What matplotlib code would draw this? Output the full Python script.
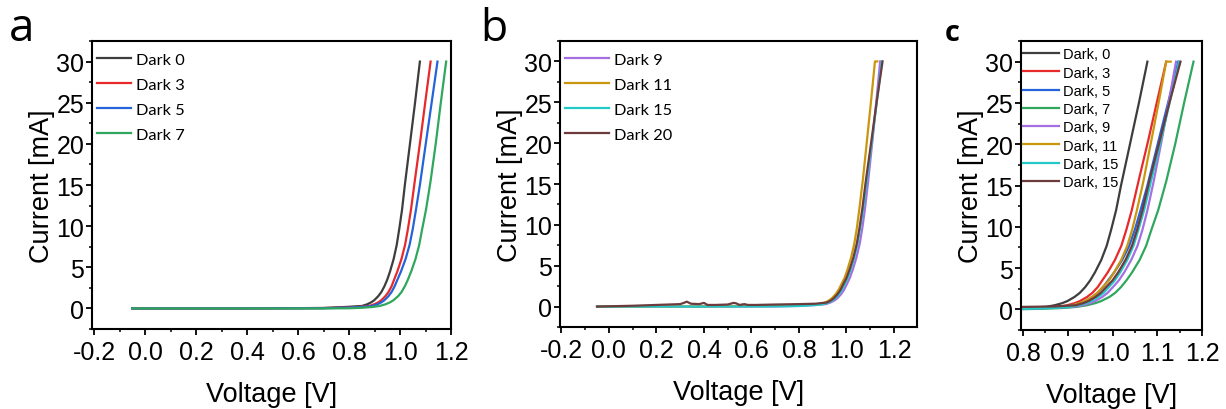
import matplotlib
matplotlib.use("Agg")
import matplotlib.pyplot as plt
from matplotlib.ticker import MultipleLocator, FormatStrFormatter

plt.rcParams['font.family'] = ['Liberation Sans', 'DejaVu Sans']

# ---------------- data (voltage [V], current [mA]) ----------------
v_d0 = [-0.05, 0.4, 0.7, 0.80, 0.851, 0.871, 0.8875, 0.899, 0.915, 0.927, 0.939, 0.95, 0.961, 0.975,
        0.987, 0.997, 1.008, 1.019, 1.039, 1.059, 1.078]
i_d0 = [0, 0, 0.05, 0.2, 0.3, 0.5, 0.75, 1.0, 1.5, 2.0, 2.7, 3.5, 4.5, 6.0,
        7.7, 9.65, 12, 15, 20, 25, 30]

v_d3 = [-0.05, 0.4, 0.7, 0.80, 0.84, 0.879, 0.899, 0.9155, 0.927, 0.943, 0.955, 0.967, 0.977, 0.9896,
        1.0056, 1.0197, 1.031, 1.043, 1.058, 1.08, 1.10, 1.12]
i_d3 = [0, 0, 0.05, 0.12, 0.2, 0.3, 0.5, 0.75, 1.0, 1.5, 2.0, 2.7, 3.5, 4.5,
        6.0, 7.7, 9.65, 12, 15.5, 20.5, 25.3, 30]

v_d5 = [-0.05, 0.4, 0.7, 0.80, 0.86, 0.891, 0.911, 0.9275, 0.939, 0.955, 0.967, 0.979, 0.99, 1.004,
        1.0218, 1.0374, 1.05, 1.0626, 1.078, 1.10, 1.125, 1.147]
i_d5 = [0, 0, 0.03, 0.1, 0.2, 0.3, 0.5, 0.75, 1.0, 1.5, 2.0, 2.7, 3.5, 4.5,
        6.0, 7.7, 9.65, 12, 15, 19.8, 25.2, 30]

v_d7 = [-0.05, 0.4, 0.7, 0.80, 0.85, 0.89, 0.92, 0.943, 0.9615, 0.9745, 0.993, 1.006, 1.019, 1.031,
        1.044, 1.0607, 1.0752, 1.087, 1.102, 1.12, 1.14, 1.16, 1.181]
i_d7 = [0, 0, 0.0, 0.02, 0.08, 0.17, 0.3, 0.5, 0.75, 1.0, 1.5, 2.0, 2.7, 3.5,
        4.5, 6.0, 7.7, 9.65, 12, 15.5, 20.0, 25.0, 30]

v_d9 = [-0.05, 0.4, 0.7, 0.80, 0.87, 0.913, 0.933, 0.9495, 0.961, 0.977, 0.989, 1.001, 1.014, 1.0264,
        1.042, 1.0559, 1.067, 1.078, 1.092, 1.11, 1.126, 1.142]
i_d9 = [0, 0, 0.02, 0.08, 0.2, 0.3, 0.5, 0.75, 1.0, 1.5, 2.0, 2.7, 3.5, 4.5,
        6.0, 7.7, 9.65, 12, 15.5, 20.5, 25.2, 30]

v_d11 = [-0.05, 0.4, 0.7, 0.80, 0.86, 0.89, 0.91, 0.9265, 0.938, 0.954, 0.966, 0.978, 0.992, 1.004,
         1.0196, 1.033, 1.044, 1.0545, 1.069, 1.087, 1.104, 1.12, 1.13]
i_d11 = [0, 0.02, 0.08, 0.2, 0.25, 0.3, 0.5, 0.75, 1.0, 1.5, 2.0, 2.7, 3.5, 4.5,
         6.0, 7.7, 9.65, 12, 15.5, 20.5, 25.3, 30, 30]

v_d15 = [-0.05, 0.4, 0.7, 0.80, 0.87, 0.904, 0.924, 0.9405, 0.952, 0.968, 0.98, 0.992, 1.005, 1.0174,
         1.0331, 1.0469, 1.058, 1.0706, 1.086, 1.107, 1.128, 1.149]
i_d15 = [0, 0, 0.02, 0.07, 0.18, 0.3, 0.5, 0.75, 1.0, 1.5, 2.0, 2.7, 3.5, 4.5,
         6.0, 7.7, 9.65, 12, 15.5, 20.2, 25.1, 30]

v_d20 = [-0.05, 0.1, 0.2, 0.3, 0.315, 0.328, 0.345, 0.38, 0.40, 0.415, 0.45, 0.5, 0.525, 0.535, 0.55,
         0.57, 0.585, 0.62, 0.7, 0.8, 0.87, 0.918, 0.9345, 0.946, 0.962, 0.974, 0.986, 1.0, 1.0129,
         1.0292, 1.0435, 1.055, 1.067, 1.082, 1.105, 1.128, 1.152]
i_d20 = [0, 0.1, 0.2, 0.3, 0.45, 0.6, 0.35, 0.3, 0.45, 0.2, 0.2, 0.25, 0.45, 0.4, 0.2,
         0.3, 0.2, 0.2, 0.25, 0.3, 0.35, 0.5, 0.75, 1.0, 1.5, 2.0, 2.7, 3.5, 4.5,
         6.0, 7.7, 9.65, 12, 15.5, 20.3, 25.2, 30]

labels_a = ["Dark 0", "Dark 3", "Dark 5", "Dark 7"]
labels_b = ["Dark 9", "Dark 11", "Dark 15", "Dark 20"]
labels_c = ["Dark, 0", "Dark, 3", "Dark, 5", "Dark, 7", "Dark, 9", "Dark, 11", "Dark, 15", "Dark, 15"]

colors = {"d0": "#3d3d3d", "d3": "#e8292b", "d5": "#2563d9", "d7": "#2fa75c",
          "d9": "#a56fe2", "d11": "#c9960e", "d15": "#22c9c9", "d20": "#6d3b3b"}

series_a = [(v_d0, i_d0, "d0"), (v_d3, i_d3, "d3"), (v_d5, i_d5, "d5"), (v_d7, i_d7, "d7")]
series_b = [(v_d9, i_d9, "d9"), (v_d11, i_d11, "d11"), (v_d15, i_d15, "d15"), (v_d20, i_d20, "d20")]

# ---------------- figure ----------------
fig = plt.figure(figsize=(12.26, 4.10), dpi=100)
W, H = 1226, 410

def make_ax(l, r, t, b):
    return fig.add_axes([l / W, 1 - b / H, (r - l) / W, (b - t) / H])

ax_a = make_ax(92, 451, 42, 330)
ax_b = make_ax(560, 917, 42, 328)
ax_c = make_ax(1021, 1202, 42, 331)

TICK_FS = 18
LABEL_FS = 19.5
LW = 1.6

def style(ax, xlim, xmaj, xmin):
    ax.set_xlim(*xlim)
    ax.set_ylim(-2.5, 32.5)
    ax.xaxis.set_major_locator(MultipleLocator(xmaj))
    ax.xaxis.set_minor_locator(MultipleLocator(xmin))
    ax.xaxis.set_major_formatter(FormatStrFormatter('%.1f'))
    ax.yaxis.set_major_locator(MultipleLocator(5))
    ax.yaxis.set_minor_locator(MultipleLocator(2.5))
    for s in ax.spines.values():
        s.set_linewidth(1.5)
    ax.tick_params(which='major', direction='out', length=4, width=1.3, labelsize=TICK_FS,
                   top=False, right=False)
    ax.tick_params(which='minor', direction='out', length=2.5, width=1.1, top=False, right=False)
    ax.tick_params(axis='y', which='major', pad=1.5)
    ax.tick_params(axis='x', which='major', pad=4)
    ax.set_xlabel("Voltage [V]", fontsize=LABEL_FS, labelpad=12)
    ax.set_ylabel("Current [mA]", fontsize=LABEL_FS, labelpad=1)

leg_font_ab = {'family': ['Lato', 'DejaVu Sans'], 'size': 11.8}

# Panel a
for v, i, k in series_a:
    ax_a.plot(v, i, color=colors[k], lw=LW)
style(ax_a, (-0.208, 1.2), 0.2, 0.1)
ax_a.legend(labels_a, loc='upper left', bbox_to_anchor=(0.005, 0.972), frameon=False,
            prop=leg_font_ab, handlelength=2.1, handletextpad=0.3, labelspacing=0.64,
            borderpad=0.2, borderaxespad=0)

# Panel b
for v, i, k in series_b:
    ax_b.plot(v, i, color=colors[k], lw=LW)
style(ax_b, (-0.206, 1.297), 0.2, 0.1)
ax_b.legend(labels_b, loc='upper left', bbox_to_anchor=(0.005, 0.972), frameon=False,
            prop=leg_font_ab, handlelength=2.7, handletextpad=0.3, labelspacing=0.64,
            borderpad=0.2, borderaxespad=0)

# Panel c
for v, i, k in series_a + series_b:
    ax_c.plot(v, i, color=colors[k], lw=LW)
style(ax_c, (0.7955, 1.2), 0.1, 0.05)
ax_c.legend(labels_c, loc='upper left', bbox_to_anchor=(0.005, 0.983), frameon=False,
            prop={'family': ['Liberation Sans', 'DejaVu Sans'], 'size': 10.5},
            handlelength=2.45, handletextpad=0.25, labelspacing=0.29, borderpad=0.1,
            borderaxespad=0)

# Panel letters
for x, lab, fs, fw in [(9, "a", 33, 'normal'), (480, "b", 32, 'normal'), (945, "c", 21, 'bold')]:
    fig.text(x / W, 1 - 41 / H, lab, fontsize=fs, fontweight=fw,
             family=['Open Sans', 'DejaVu Sans'], va='baseline', ha='left')

fig.savefig("out.png", dpi=100)
